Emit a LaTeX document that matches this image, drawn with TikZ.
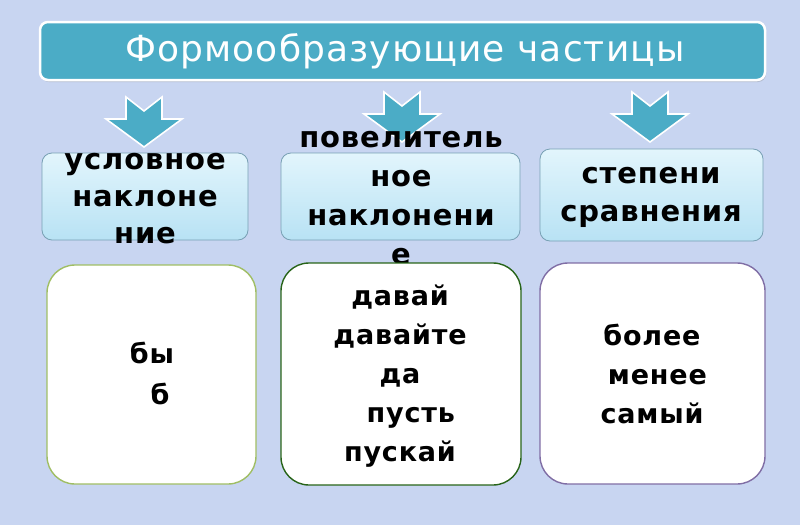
\documentclass[tikz,border=0pt]{standalone}
\usepackage{fontspec}
\setmainfont{DejaVu Sans}
\newfontfamily\boldsp[LetterSpace=3]{DejaVu Sans Bold}
\newfontfamily\titlefont[LetterSpace=3]{DejaVu Sans}
\usetikzlibrary{shadows}
\definecolor{bgc}{RGB}{200,213,241}
\definecolor{teal}{RGB}{75,172,198}
\definecolor{midtop}{RGB}{226,245,252}
\definecolor{midbot}{RGB}{184,226,244}
\definecolor{midborder}{RGB}{120,160,180}
\definecolor{olive}{RGB}{160,190,100}
\definecolor{dgreen}{RGB}{40,100,25}
\definecolor{purp}{RGB}{128,110,165}
\tikzset{
  titlebox/.style={draw=white, line width=2.5pt, fill=teal, rounded corners=8pt},
  midbox/.style={draw=midborder, line width=0.8pt, top color=midtop, bottom color=midbot, rounded corners=10pt},
  lowbox/.style={fill=white, line width=1.4pt, rounded corners=28pt},
  arr/.style={fill=teal, draw=white, line width=1.6pt, line join=miter},
  btxt/.style={align=center, text=black},
  ltxt/.style={font=\boldsp\fontsize{27}{39}\selectfont, align=center, text=black},
}
\newcommand{\dnarrow}[2]{%
  \draw[arr] (#1-18,#2) -- (#1,#2+14) -- (#1+18,#2) -- (#1+18,#2+22) -- (#1+38,#2+22)
    -- (#1,#2+50) -- (#1-38,#2+22) -- (#1-18,#2+22) -- cycle;}
\begin{document}
\begin{tikzpicture}[x=1pt,y=-1pt]
\useasboundingbox (0,0) rectangle (800,525);
\fill[bgc] (0,0) rectangle (800,525);
% title
\draw[titlebox, drop shadow={shadow xshift=1pt, shadow yshift=-2pt, opacity=0.3}] (40,22) rectangle (765,80);
\node[text=white, font=\titlefont\fontsize{36}{40}\selectfont] (title) at (405,51) {Формообразующие частицы};
% arrows
\dnarrow{144}{97}
\dnarrow{402}{92}
\dnarrow{650}{92}
% middle row
\draw[midbox] (42,153) rectangle (248,240);
\draw[midbox] (281,153) rectangle (520,240);
\draw[midbox] (540,149) rectangle (763,241);
\node[btxt, font=\boldsp\fontsize{29}{37}\selectfont] (m1) at (145,199) {условное\\наклоне\\ние};
\node[btxt, font=\boldsp\fontsize{29}{39}\selectfont] (m2) at (401,198) {повелитель\\ное\\наклонени\\е};
\node[btxt, font=\boldsp\fontsize{29}{38}\selectfont] (m3) at (651,197) {степени\\сравнения};
% lower row
\draw[lowbox, draw=olive] (47,265) rectangle (256,484);
\draw[lowbox, draw=dgreen] (281,263) rectangle (521,485);
\draw[lowbox, draw=purp] (540,263) rectangle (765,484);
\node[ltxt, font=\boldsp\fontsize{27}{41}\selectfont] (l1) at (152,373) {бы\\\hspace*{0.6em}б};
\node[ltxt] (l2) at (400,376) {давай\\давайте\\да\\\hspace*{0.8em}пусть\\пускай};
\node[ltxt] (l3) at (652,374) {более\\\hspace*{0.4em}менее\\самый};
\end{tikzpicture}
\end{document}
